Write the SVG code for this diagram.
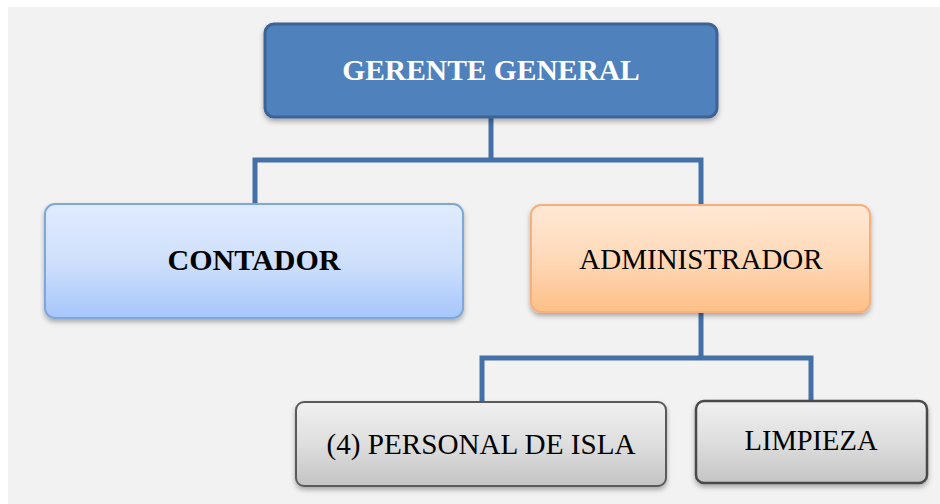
<svg xmlns="http://www.w3.org/2000/svg" width="940" height="504" viewBox="0 0 940 504">
<defs>
<linearGradient id="gBlue" x1="0" y1="0" x2="0" y2="1"><stop offset="0" stop-color="#e0ebfd"/><stop offset="0.5" stop-color="#cfe0fc"/><stop offset="1" stop-color="#a6c6fb"/></linearGradient>
<linearGradient id="gOrange" x1="0" y1="0" x2="0" y2="1"><stop offset="0" stop-color="#ffe8d6"/><stop offset="0.5" stop-color="#ffd9b8"/><stop offset="1" stop-color="#fdbf87"/></linearGradient>
<linearGradient id="gGray" x1="0" y1="0" x2="0" y2="1"><stop offset="0" stop-color="#f0f0f0"/><stop offset="0.5" stop-color="#dedede"/><stop offset="1" stop-color="#c4c4c4"/></linearGradient>
<filter id="sh" x="-10%" y="-20%" width="120%" height="150%"><feDropShadow dx="0" dy="3" stdDeviation="2.5" flood-color="#000" flood-opacity="0.3"/></filter>
</defs>
<style>
.conn{fill:none;stroke:#4470a8;stroke-width:5;stroke-linejoin:miter}
.t{font-family:"Liberation Serif","Times New Roman",serif;text-anchor:middle}
</style>
<rect x="0" y="0" width="940" height="504" fill="#ffffff"/>
<rect x="8" y="7" width="932" height="497" fill="#f2f2f2"/>
<g id="connectors">
<path class="conn" d="M491 117 V160 M255 205 V160 H701 V205"/>
<path class="conn" d="M701 312 V358 M482 402 V358 H811 V401"/>
</g>
<g id="gerente">
<rect x="265" y="24" width="452" height="93" rx="9" fill="#4f81bd" stroke="#3c6496" stroke-width="3" filter="url(#sh)"/>
<text class="t" x="491" y="80" font-size="29.5" font-weight="bold" fill="#ffffff">GERENTE GENERAL</text>
</g>
<g id="contador">
<rect x="45" y="204" width="418" height="114" rx="10" fill="url(#gBlue)" stroke="#7fa7d9" stroke-width="2" filter="url(#sh)"/>
<text class="t" x="254" y="270" font-size="30" font-weight="bold" fill="#000000">CONTADOR</text>
</g>
<g id="administrador">
<rect x="531" y="205" width="339" height="107" rx="10" fill="url(#gOrange)" stroke="#f4b17f" stroke-width="2" filter="url(#sh)"/>
<text class="t" x="701" y="269" font-size="29" fill="#000000">ADMINISTRADOR</text>
</g>
<g id="personal">
<rect x="296" y="402" width="370" height="84" rx="8" fill="url(#gGray)" stroke="#5a5a5a" stroke-width="2" filter="url(#sh)"/>
<text class="t" x="481" y="454" font-size="29" fill="#000000" textLength="309" lengthAdjust="spacingAndGlyphs">(4) PERSONAL DE ISLA</text>
</g>
<g id="limpieza">
<rect x="696" y="401" width="231" height="82" rx="8" fill="url(#gGray)" stroke="#4a4a4a" stroke-width="2.5" filter="url(#sh)"/>
<text class="t" x="811" y="450" font-size="29" fill="#000000" textLength="133" lengthAdjust="spacingAndGlyphs">LIMPIEZA</text>
</g>
</svg>
